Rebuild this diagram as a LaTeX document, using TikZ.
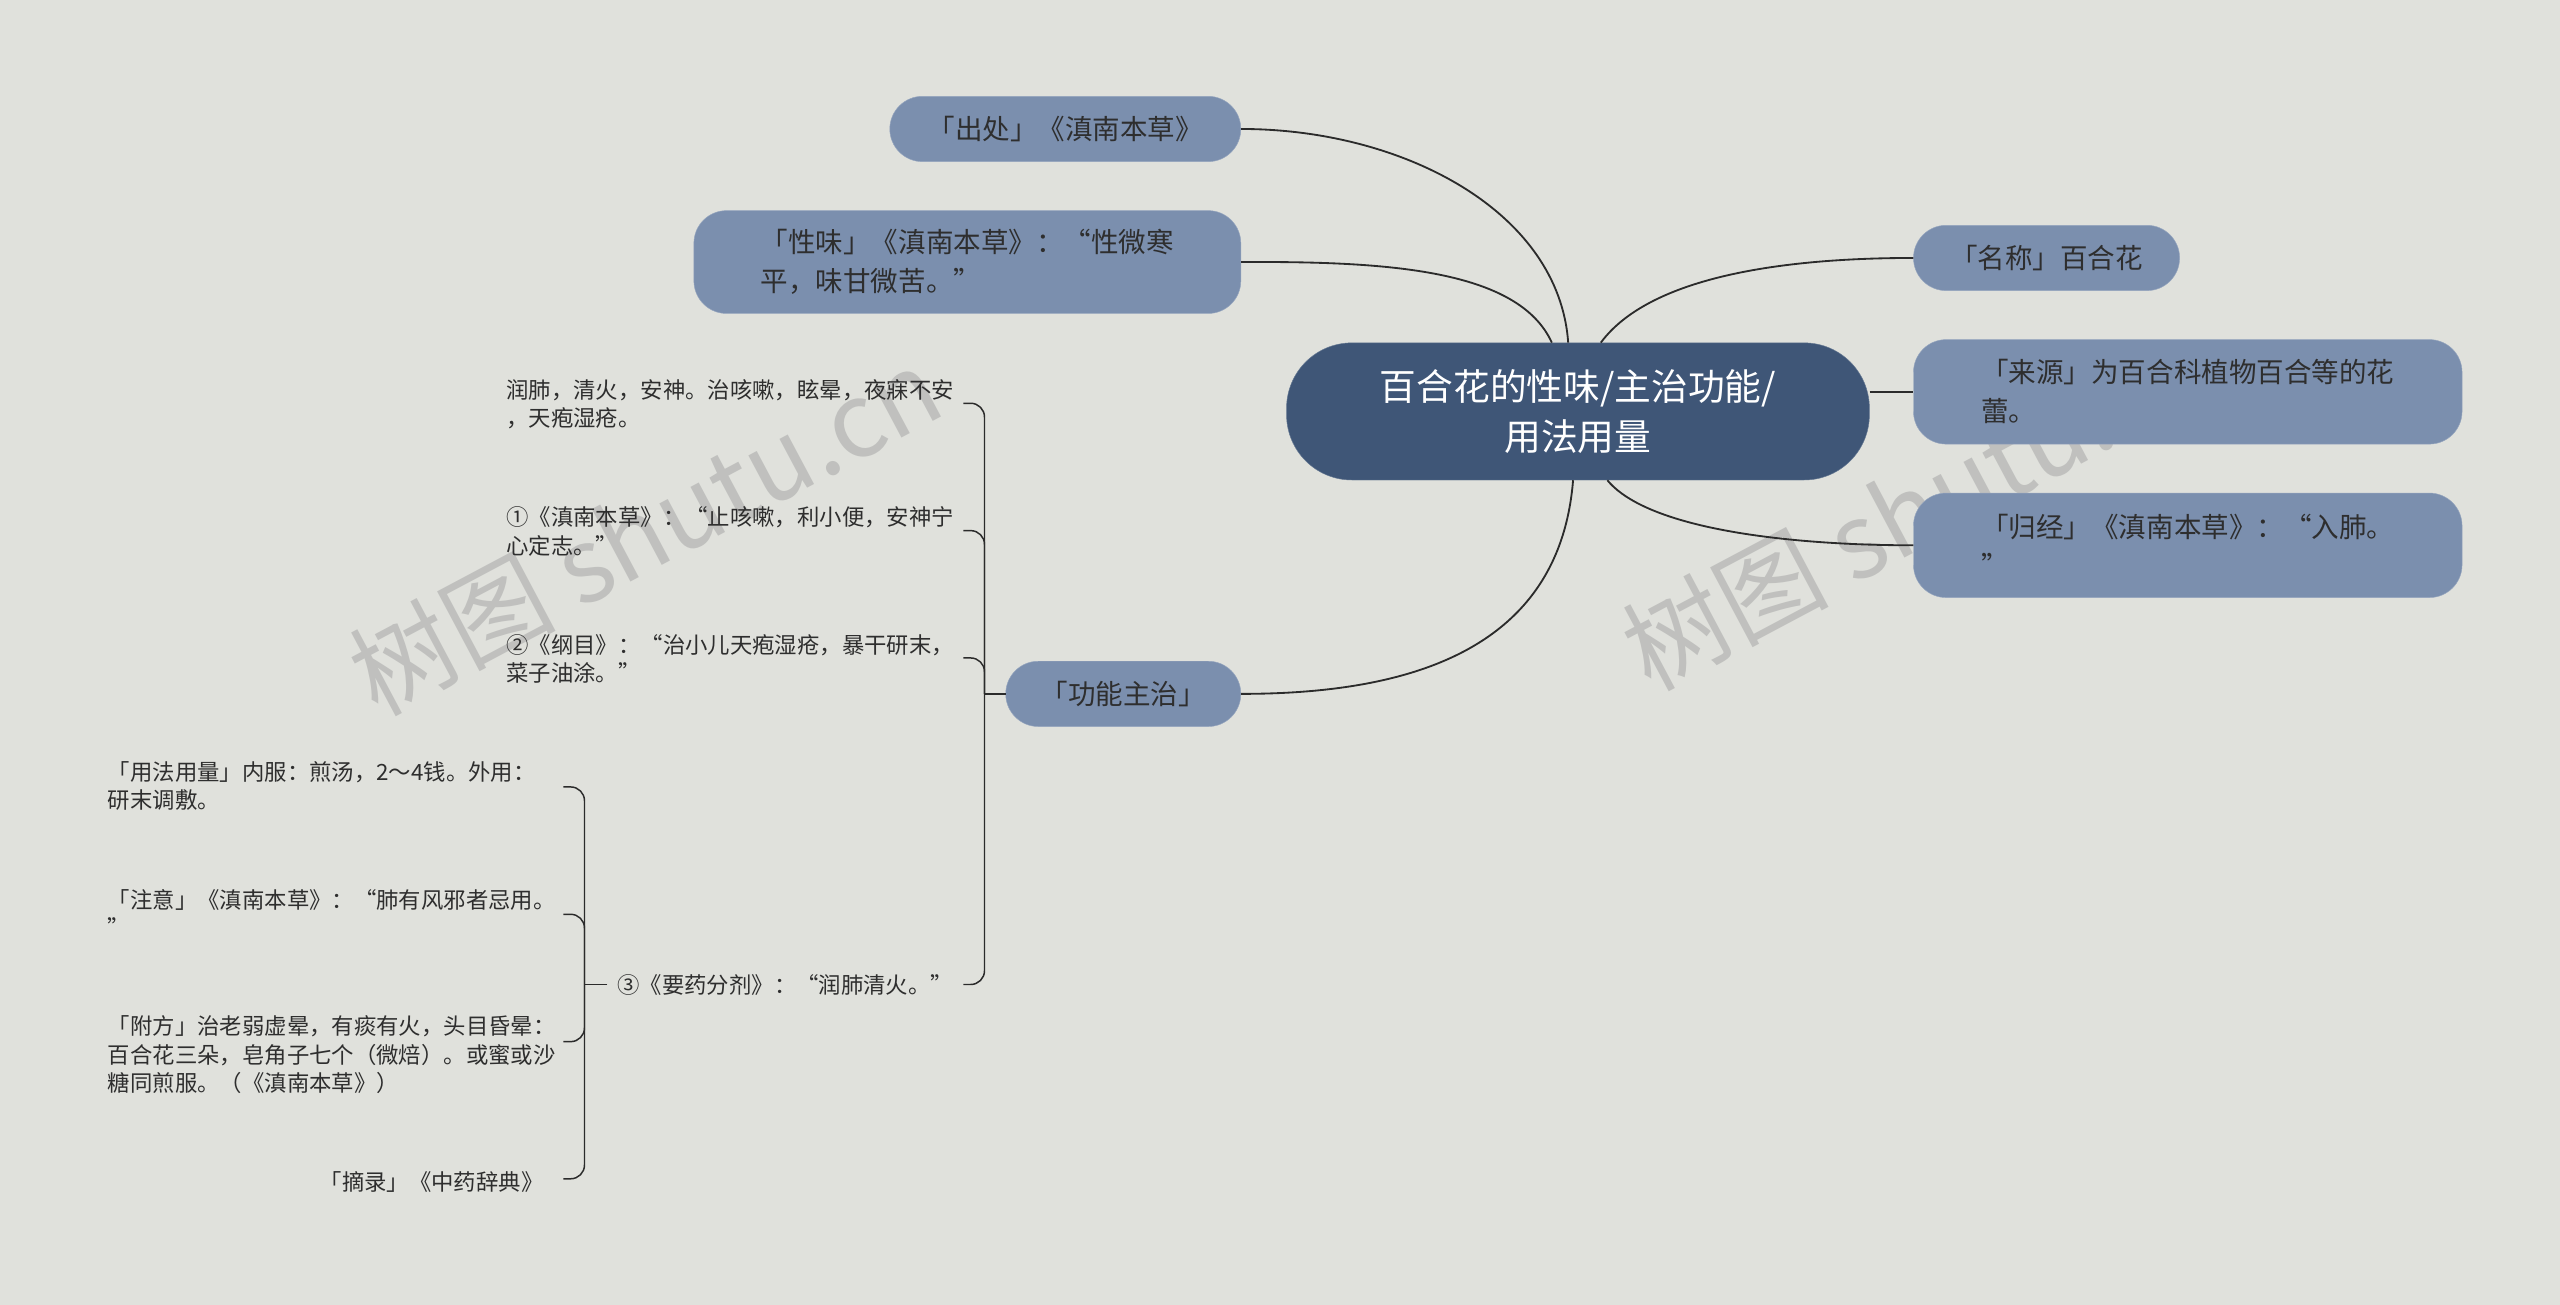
\documentclass[tikz,border=0pt]{standalone}
\usepackage{fontspec}
\setmainfont{Noto Sans CJK SC}
\usetikzlibrary{calc}
\definecolor{bg}{HTML}{E0E1DC}
\definecolor{bl}{HTML}{7B8FAE}
\definecolor{bd}{HTML}{3F5677}
\definecolor{ln}{HTML}{2B2B2B}
\definecolor{tx}{HTML}{2E2E2E}
\tikzset{
 bnode/.style={fill=bl,draw=bl!80!white,rounded corners=1cm,text=tx,font=\fontsize{24}{34}\selectfont,align=left,inner sep=0pt},
 cnode/.style={fill=bd,draw=bd!80!white,rounded corners=2cm,text=white,font=\fontsize{32}{43}\selectfont,align=center,inner sep=0pt},
 snode/.style={text=tx,font=\fontsize{19.5}{24.5}\selectfont,align=left,inner sep=0pt,anchor=west},
 conn/.style={draw=ln,line width=1.6pt},
 wm/.style={text=gray!70,font=\fontsize{90}{90}\selectfont,rotate=28,opacity=0.55}
}
\begin{document}
\begin{tikzpicture}[x=0.05cm,y=-0.05cm]
\fill[bg] (0,0) rectangle (1568,799);
\useasboundingbox (0,0) rectangle (1568,799);
\node[wm] (w1) at (395,325) {树图 shutu.cn};
\node[wm] (w2) at (1175,310) {树图 shutu.cn};

\node[cnode,minimum width=17.85cm,minimum height=4.2cm] (c) at (966.5,252) {百合花的性味/主治功能/\\用法用量};
\node[bnode,minimum width=10.75cm,minimum height=2cm] (n1) at (652.5,79) {「出处」《滇南本草》};
\node[bnode,minimum width=16.75cm,minimum height=3.15cm] (n2) at (592.5,160.5) {「性味」《滇南本草》：“性微寒\hspace{0.8cm}\\平，味甘微苦。”};
\node[bnode,minimum width=16.8cm,minimum height=2cm] (r1) at (1253.5,158) [minimum width=8.15cm] {「名称」百合花};
\node[bnode,minimum width=16.8cm,minimum height=3.2cm] (r2) at (1340,240) {「来源」为百合科植物百合等的花\hspace{0.8cm}\\蕾。};
\node[bnode,minimum width=16.8cm,minimum height=3.2cm] (r3) at (1340,334) {「归经」《滇南本草》：“入肺。\hspace{2.6cm}\\”};
\node[bnode,minimum width=7.2cm,minimum height=2cm] (f) at (688,425) {「功能主治」};

\draw[conn] ($(c.north)+(-6,0)$) .. controls (955,130) and (860,79) .. (n1.east);
\draw[conn] ($(c.north)+(-16,0)$) .. controls (930,165) and (850,160) .. (n2.east);
\draw[conn] ($(c.north)+(14,0)$) .. controls (1010,170) and (1090,158) .. (r1.west);
\draw[conn] (c.east|-r2.west) -- (r2.west);
\draw[conn] ($(c.south)+(18,0)$) .. controls (1010,325) and (1100,334) .. (r3.west);
\draw[conn] ($(c.south)+(-3,0)$) .. controls (955,400) and (860,425) .. (f.east);

\node[snode] (a1) at (310,247.5) {润肺，清火，安神。治咳嗽，眩晕，夜寐不安\\，天疱湿疮。};
\node[snode] (a2) at (310,325.5) {①《滇南本草》：“止咳嗽，利小便，安神宁\\心定志。”};
\node[snode] (a3) at (310,403.5) {②《纲目》：“治小儿天疱湿疮，暴干研末，\\菜子油涂。”};
\node[snode] (a4) at (378,603) {③《要药分剂》：“润肺清火。”};

\coordinate (fb) at (603,425);
\draw[conn,line width=1.3pt] (f.west) -- (fb);
\foreach \y in {247,325,403,603}{
 \draw[conn,line width=1.3pt,rounded corners=12pt] (fb) |- (590,\y);
}

\node[snode] (b1) at (66,481.5) {「用法用量」内服：煎汤，2～4钱。外用：\\研末调敷。};
\node[snode] (b2) at (66,559) {「注意」《滇南本草》：“肺有风邪者忌用。\\”};
\node[snode] (b3) at (66,646) {「附方」治老弱虚晕，有痰有火，头目昏晕：\\百合花三朵，皂角子七个（微焙）。或蜜或沙\\糖同煎服。（《滇南本草》）};
\node[snode,anchor=east] (b4) at (333,724) {「摘录」《中药辞典》};

\coordinate (ab) at (358,603);
\draw[conn,line width=1.3pt] ($(a4.west)+(-6,0)$) -- (ab);
\foreach \y in {482,560,638,722}{
 \draw[conn,line width=1.3pt,rounded corners=12pt] (ab) |- (345,\y);
}
\end{tikzpicture}
\end{document}
